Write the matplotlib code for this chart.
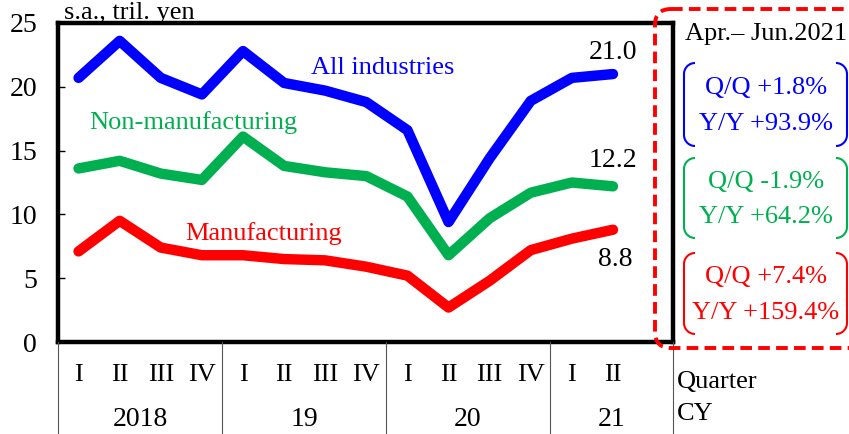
import matplotlib

matplotlib.use("Agg")
import matplotlib.pyplot as plt
from matplotlib.path import Path
from matplotlib.patches import PathPatch, FancyBboxPatch

plt.rcParams["font.family"] = ["Liberation Serif", "DejaVu Serif"]

# data (s.a., tril. yen), 2018 Q1 .. 2021 Q2
quarters = ["I", "II", "III", "IV"] * 3 + ["I", "II"]
years = ["2018", "19", "20", "21"]
all_ind = [20.7, 23.6, 20.7, 19.4, 22.8, 20.3, 19.7, 18.8, 16.6, 9.4, 14.4, 18.9, 20.7, 21.0]
non_mfg = [13.6, 14.2, 13.2, 12.7, 16.1, 13.8, 13.3, 13.0, 11.4, 6.8, 9.7, 11.7, 12.5, 12.2]
mfg = [7.1, 9.5, 7.4, 6.8, 6.8, 6.5, 6.4, 5.9, 5.2, 2.7, 4.8, 7.2, 8.1, 8.8]
changes = [("Q/Q +1.8%", "Y/Y +93.9%"), ("Q/Q -1.9%", "Y/Y +64.2%"), ("Q/Q +7.4%", "Y/Y +159.4%")]

BLUE = "#0000ff"
GREEN = "#00b050"
RED = "#ff0000"

W, H = 849, 434
fig = plt.figure(figsize=(W / 100, H / 100), dpi=100)

# main axes in pixel layout
L, R, T, B = 58, 673, 23, 342
ax = fig.add_axes([L / W, 1 - B / H, (R - L) / W, (B - T) / H])
x = list(range(len(quarters)))
for ys, c in [(all_ind, BLUE), (non_mfg, GREEN), (mfg, RED)]:
    ax.plot(x, ys, color=c, lw=7.5, solid_capstyle="round", solid_joinstyle="round", zorder=3)

ax.set_xlim(-0.5, 14.46)
ax.set_ylim(0, 25)
ax.set_yticks(range(0, 26, 5))
ax.tick_params(axis="y", direction="in", length=5, width=1, labelsize=20, pad=15)
for s in ax.spines.values():
    s.set_linewidth(3.2)
ax.set_xticks(x)
ax.set_xticklabels(quarters, fontsize=19)
ax.tick_params(axis="x", length=0, pad=16)

# end values
ax.text(13, 21.0 + 0.7, f"{all_ind[-1]:.1f}", ha="center", va="bottom", fontsize=20)
ax.text(13, 12.2 + 1.05, f"{non_mfg[-1]:.1f}", ha="center", va="bottom", fontsize=20)
ax.text(13.05, 8.8 - 1.35, f"{mfg[-1]:.1f}", ha="center", va="top", fontsize=20)

# series names
ax.text(7.4, 21.5, "All industries", color=BLUE, ha="center", va="center", fontsize=19)
ax.text(2.8, 17.2, "Non-manufacturing", color=GREEN, ha="center", va="center", fontsize=19)
ax.text(4.5, 8.5, "Manufacturing", color=RED, ha="center", va="center", fontsize=19)

# overlay in pixel coordinates
ov = fig.add_axes([0, 0, 1, 1], zorder=5)
ov.set_xlim(0, W)
ov.set_ylim(H, 0)
ov.axis("off")
ov.patch.set_alpha(0)

ov.text(64, 13, "s.a., tril. yen", ha="left", va="center", fontsize=19)

# category table below the axes
for px in [L, 222, 386, 550, R]:
    ov.plot([px, px], [B, H], color="#555555", lw=0.8)
year_spans = [(L, 222), (222, 386), (386, 550), (550, R)]
for yr, (a, b) in zip(years, year_spans):
    ov.text((a + b) / 2, 419, yr, ha="center", va="center", fontsize=20)
ov.text(677, 382, "Quarter", ha="left", va="center", fontsize=19)
ov.text(677, 414, "CY", ha="left", va="center", fontsize=19)

# dashed red box on the right
box = FancyBboxPatch((655, 9), 210, 339, boxstyle="round,pad=0,rounding_size=16",
                     fill=False, ec=RED, lw=2.8, ls=(0, (3, 1.6)), zorder=6)
ov.add_patch(box)
ov.text(766, 34, "Apr.\u2013 Jun.2021", ha="center", va="center", fontsize=19)


def bracket(x0, y0, y1, side, color, r=11):
    # left "(" when side=1, right ")" when side=-1
    k = 0.55 * r
    verts = [(x0 + side * r, y0), (x0 + side * (r - k), y0), (x0, y0 + r - k), (x0, y0 + r),
             (x0, y1 - r), (x0, y1 - r + k), (x0 + side * (r - k), y1), (x0 + side * r, y1)]
    codes = [Path.MOVETO, Path.CURVE4, Path.CURVE4, Path.CURVE4,
             Path.LINETO, Path.CURVE4, Path.CURVE4, Path.CURVE4]
    ov.add_patch(PathPatch(Path(verts, codes), fill=False, ec=color, lw=1.5, zorder=6))


groups = [(BLUE, 63, 146), (GREEN, 158, 238), (RED, 253, 334)]
for (c, y0, y1), (qq, yy) in zip(groups, changes):
    bracket(684, y0, y1, 1, c)
    bracket(847, y0, y1, -1, c)
    ov.text(766, y0 + (y1 - y0) * 0.3, qq, color=c, ha="center", va="center", fontsize=19)
    ov.text(766, y0 + (y1 - y0) * 0.74, yy, color=c, ha="center", va="center", fontsize=19)

fig.savefig("out.png", dpi=100)
